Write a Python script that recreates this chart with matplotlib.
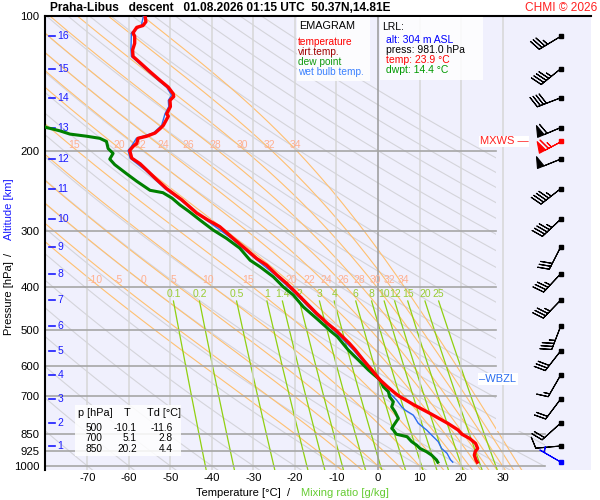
import numpy as np
import matplotlib
matplotlib.use('Agg')
import matplotlib.pyplot as plt
from matplotlib.patches import Polygon, Rectangle

plt.rcParams['font.family'] = ['Liberation Sans', 'DejaVu Sans']

# --- sounding (descent) ---
temp_p = [100, 103, 105, 106, 109, 111, 115, 119, 123, 127, 133, 139, 144, 149, 151,
          154, 159, 165, 167, 175, 178, 182, 185, 187, 192, 195, 199, 207, 213, 220,
          231, 242, 256, 274, 284, 294, 312, 331, 346, 358, 376, 393, 413, 435, 458,
          482, 500, 534, 552, 582, 612, 644, 667, 690, 700, 732, 764, 804, 832, 850,
          868, 891, 914, 930, 946, 970, 981]
temp_t = [-56.1, -55.9, -56.6, -58.1, -59.0, -58.6, -58.6, -59.1, -59.0, -57.3, -54.9, -52.5, -50.5, -49.3, -49.2,
          -50.1, -50.0, -50.9, -50.5, -51.7, -52.5, -53.7, -55.7, -57.8, -58.1, -59.0, -59.8, -59.3, -57.3, -55.7,
          -53.3, -50.9, -47.3, -43.7, -41.0, -38.1, -34.9, -31.6, -29.2, -26.8, -24.4, -22.0, -19.6, -17.2, -14.8,
          -12.2, -10.1, -6.9, -5.5, -3.5, -1.5, 0.5, 2.3, 4.2, 5.1, 8.7, 12.5, 16.8, 19.3, 20.2,
          22.0, 23.5, 24.0, 23.4, 23.2, 23.6, 23.9]

dew_p = [168, 177, 180, 183, 185, 187, 190, 197, 202, 208, 214, 224, 233, 244, 247,
         254, 263, 272, 284, 299, 312, 328, 349, 361, 380, 400, 417, 443, 470, 490,
         500, 516, 552, 612, 644, 667, 684, 702, 720, 739, 758, 784, 804, 825, 832,
         850, 861, 883, 899, 914, 930, 946, 970, 981]
dew_t = [-85.0, -79.8, -76.6, -74.2, -70.2, -67.0, -65.4, -65.0, -63.8, -64.6, -63.4, -60.6, -58.1, -54.9, -51.8,
         -49.6, -47.7, -45.5, -42.9, -39.7, -36.5, -33.3, -30.8, -28.4, -25.2, -22.8, -20.4, -18.0, -14.8, -12.6,
         -11.6, -9.8, -7.2, -2.3, 0.5, 1.3, 2.5, 2.8, 3.7, 3.3, 4.1, 4.9, 4.1, 3.3, 3.7,
         4.4, 7.0, 8.1, 9.3, 10.1, 11.7, 12.9, 14.1, 14.4]

wb_p = [100, 105, 109, 119, 123, 127, 133, 139, 144, 150, 154, 159, 165, 175, 182,
        187, 195, 199, 207, 220, 242, 256, 284, 312, 346, 376, 413, 458, 500, 552,
        612, 644, 672, 690, 714, 739, 751, 771, 804, 832, 861, 883, 914, 937, 970, 981]
wb_t = [-56.5, -57.0, -59.4, -59.5, -59.4, -57.7, -55.3, -52.9, -50.9, -49.7, -50.5, -50.4, -51.3, -52.1, -54.1,
        -58.2, -59.4, -60.2, -59.7, -56.1, -51.3, -47.7, -41.4, -35.3, -29.6, -24.8, -20.0, -15.2, -10.6, -6.0,
        -1.8, 0.5, 1.7, 2.9, 4.5, 5.7, 6.5, 8.5, 9.7, 11.7, 13.3, 14.5, 15.3, 16.6, 17.5, 18.0]

# altitude marks (km) and the wind at each of them
alt_km = [1, 2, 3, 4, 5, 6, 7, 8, 9, 10, 11, 12, 13, 14, 15, 16]
alt_p = [903, 803, 710, 628, 555, 489, 428, 374, 326, 283, 242, 208, 177, 152, 131, 111]
wind_dir = [265, 228, 217, 210, 218, 201, 224, 223, 207, 227, 232, 248, 247, 249, 231, 239]
wind_spd = [10, 20, 20, 15, 30, 35, 35, 35, 30, 45, 45, 50, 60, 40, 45, 35]
mxws_p, mxws_dir, mxws_spd = 190, 242, 65
sfc_p, sfc_dir, sfc_spd = 981, 300, 5
wbzl_p = 641

# background isopleths
theta_dry = np.arange(-70, 201, 10)
theta_w = [-10, -5, 0, 5, 10, 15, 20, 22, 24, 26, 28, 30, 32, 34]
mix_ratio = [0.1, 0.2, 0.5, 1, 1.4, 2, 3, 4, 6, 8, 10, 12, 15, 20, 25]
mix_labels = ['0.1', '0.2', '0.5', '1', '1.4', '2', '3', '4', '6', '8', '10', '12', '15', '20', '25']

std_p = [100, 200, 300, 400, 500, 600, 700, 850, 925, 1000]
t_ticks = [-70, -60, -50, -40, -30, -20, -10, 0, 10, 20, 30]

table_rows = [('500', '-10.1', '-11.6'), ('700', '5.1', '2.8'), ('850', '20.2', '4.4')]


def sat_vp(tc):
    return 6.112 * np.exp(17.67 * tc / (tc + 243.5))


def td_from_e(e):
    a = np.log(e / 6.112)
    return 243.5 * a / (17.67 - a)


def dtdp(p, t):
    rd, cp, lv, eps = 287.04, 1005.7, 2.501e6, 0.622
    es = sat_vp(t - 273.15)
    rs = eps * es / (p - es)
    return (rd * t + lv * rs) / (p * (cp + lv ** 2 * rs * eps / (rd * t ** 2)))


def integrate(pp, t0):
    out = [t0]
    t = t0
    for p0, p1 in zip(pp[:-1], pp[1:]):
        h = p1 - p0
        k1 = dtdp(p0, t)
        k2 = dtdp(p0 + h / 2, t + h / 2 * k1)
        k3 = dtdp(p0 + h / 2, t + h / 2 * k2)
        k4 = dtdp(p1, t + h * k3)
        t = t + h / 6 * (k1 + 2 * k2 + 2 * k3 + k4)
        out.append(t)
    return np.array(out)


def moist_adiabat(tw):
    up = np.arange(1000, 99, -2.5)
    down = np.arange(1000, 1030, 2.5)
    t_up = integrate(up, tw + 273.15)
    t_dn = integrate(down, tw + 273.15)
    p = np.concatenate([down[::-1], up[1:]])
    t = np.concatenate([t_dn[::-1], t_up[1:]]) - 273.15
    return p, t


XMIN, XMAX = -80.2, 51.3
PBOT, PTOP = 1021, 100

fig = plt.figure(figsize=(6, 5), dpi=100)
ax = fig.add_axes([0.075, 0.06, 0.91, 0.908])
ax.set_facecolor('#f0f0fd')
ax.set_yscale('log')
ax.set_xlim(XMIN, XMAX)
ax.set_ylim(PBOT, PTOP)

clip = Polygon([(XMIN, 99), (28.4, 99), (28.4, 835), (40.2, 835), (40.2, 1030), (XMIN, 1030)],
               closed=True, transform=ax.transData, fill=False)

pp = np.geomspace(100, 1030, 200)
for th in theta_dry:
    t = (th + 273.15) * (pp / 1000) ** 0.2857 - 273.15
    ln, = ax.plot(t, pp, color='#d4d4da', lw=0.8, zorder=1)
    ln.set_clip_path(clip)

for tw in theta_w:
    p, t = moist_adiabat(tw)
    ln, = ax.plot(t, p, color='#ffc070', lw=0.8, zorder=1.1)
    ln.set_clip_path(clip)
    for plab in (193.5, 386):
        tl = np.interp(plab, p[::-1], t[::-1])
        if -78 < tl < 28:
            ax.text(tl + 1.0, plab, str(tw), color='#ffb090', fontsize=7.5,
                    ha='center', va='center', zorder=2)

pm = np.geomspace(430, 1030, 60)
for w, lab in zip(mix_ratio, mix_labels):
    t = td_from_e(w * pm / (622 + w))
    ax.plot(t, pm, color='#90d010', lw=0.9, zorder=1.2)
    ax.text(td_from_e(w * 430 / (622 + w)), 415, lab, color='#99cc33', fontsize=7.5,
            ha='center', va='center', zorder=2)

# grid
for t in t_ticks:
    ax.axvline(t, color='#999999' if t == 0 else '#d6d6d6', lw=1.1, zorder=1.5)
for p in std_p[1:]:
    right = 40.2 if p >= 850 else 28.4
    ax.plot([XMIN, right], [p, p], color='#a6a6a6', lw=1.2, zorder=1.6)

# profiles
ax.plot(wb_t, wb_p, color='#2a6cf0', lw=1.0, zorder=4)
ax.plot(dew_t, dew_p, color='#008000', lw=2.2, zorder=5)
ax.plot(temp_t, temp_p, color='#ff0000', lw=2.4, zorder=6)

# altitude marks
for km, p in zip(alt_km, alt_p):
    ax.plot([-79.3, -77.9], [p, p], color='#1a1aff', lw=1.2, zorder=3)
    ax.text(-77.2, p, str(km), color='#1a1aff', fontsize=7.5, ha='left', va='center', zorder=3)

# wind barbs
xb = 44.0
barb_kw = dict(length=6.0, lw=0.8, zorder=7, sizes=dict(height=0.45, spacing=0.13, width=0.28))


def uv(d, s):
    r = np.radians(d)
    return -s * np.sin(r), -s * np.cos(r)


u, v = uv(np.array(wind_dir), np.array(wind_spd))
ax.barbs(np.full(len(alt_p), xb), alt_p, u, v, color='k', **barb_kw)
ax.plot([xb] * len(alt_p), alt_p, 's', ms=2.5, color='k', zorder=7)
u1, v1 = uv(mxws_dir, mxws_spd)
ax.barbs([xb], [mxws_p], [u1], [v1], color='#ff0000', **barb_kw)
ax.plot([xb], [mxws_p], 's', ms=2.5, color='#ff0000', zorder=7)
u2, v2 = uv(sfc_dir, sfc_spd)
ax.barbs([xb], [sfc_p], [u2], [v2], color='#0000ff', **barb_kw)
ax.plot([xb], [sfc_p], 's', ms=2.5, color='#0000ff', zorder=7)

ax.text(36.2, mxws_p, 'MXWS \u2014', color='#ff2020', fontsize=8, ha='right', va='center', zorder=8,
        bbox=dict(fc='white', ec='none', pad=0.5))
ax.text(24.4, wbzl_p, '\u2013WBZL', color='#2a6cf0', fontsize=8, ha='left', va='center', zorder=8,
        bbox=dict(fc='white', ec='none', pad=1.0))

# axes styling
ax.set_yticks(std_p)
ax.set_yticklabels([str(p) for p in std_p])
ax.minorticks_off()
ax.set_xticks(t_ticks)
ax.set_xticklabels([str(t) for t in t_ticks])
ax.tick_params(length=0, labelsize=8.2)
ax.tick_params(axis='y', pad=4)
ax.tick_params(axis='x', pad=2)
for s in ('right', 'bottom'):
    ax.spines[s].set_visible(False)
for s in ('top', 'left'):
    ax.spines[s].set_linewidth(1.5)
    ax.spines[s].set_color('black')


def px(x, y):
    return x / 600, 1 - y / 500


# legend boxes
for (x0, y0, x1, y1) in [(297, 17, 370, 81), (380, 17, 483, 80), (75, 405, 181, 456)]:
    fig.patches.append(Rectangle(px(x0, y1), (x1 - x0) / 600, (y1 - y0) / 500,
                                 transform=fig.transFigure, fc='white', ec='none', alpha=0.85, zorder=3))

fig.text(*px(299, 26), 'EMAGRAM', fontsize=7.8, va='center', zorder=4)
for y, s, c in [(42, 'temperature', '#ff0000'), (52, 'virt.temp.', '#a00000'),
                (62, 'dew point', '#109a10'), (72, 'wet bulb temp.', '#3a80ff')]:
    fig.text(*px(298, y), s, color=c, fontsize=7.3, va='center', zorder=4)

fig.text(*px(382, 27), 'LRL:', fontsize=7.5, va='center', zorder=4)
for y, s, c in [(40, 'alt: 304 m ASL', '#0000ff'), (50, 'press: 981.0 hPa', '#000000'),
                (60, 'temp: 23.9 \u00b0C', '#ff0000'), (70, 'dwpt: 14.4 \u00b0C', '#009900')]:
    fig.text(*px(386, y), s, color=c, fontsize=7.5, va='center', zorder=4)

fig.text(*px(78, 413), 'p [hPa]', fontsize=7.8, va='center', zorder=4)
fig.text(*px(127, 413), 'T', fontsize=7.8, va='center', ha='center', zorder=4)
fig.text(*px(147, 413), 'Td [\u00b0C]', fontsize=7.8, va='center', zorder=4)
for y, (a, b, c) in zip([428, 438, 449], table_rows):
    fig.text(*px(102, y), a, fontsize=7.3, va='center', ha='right', zorder=4)
    fig.text(*px(137, y), b, fontsize=7.3, va='center', ha='right', zorder=4)
    fig.text(*px(173, y), c, fontsize=7.3, va='center', ha='right', zorder=4)

# titles and axis labels
fig.text(*px(50, 8), 'Praha-Libus   descent   01.08.2026 01:15 UTC  50.37N,14.81E',
         fontsize=8.6, fontweight='bold', va='center')
fig.text(*px(597, 8), 'CHMI \u00a9 2026', fontsize=8.6, color='#ff2020', va='center', ha='right')

fig.text(*px(9, 298), 'Pressure [hPa]', fontsize=8, rotation=90, ha='center', va='center')
fig.text(*px(9, 254), '/', fontsize=8, rotation=90, ha='center', va='center')
fig.text(*px(9, 209), 'Altitude [km]', fontsize=8, rotation=90, ha='center', va='center', color='#1a1aff')

fig.text(*px(238, 493), 'Temperature [\u00b0C]', fontsize=8, ha='center', va='center')
fig.text(*px(289, 493), '/', fontsize=8, ha='center', va='center')
fig.text(*px(345, 493), 'Mixing ratio [g/kg]', fontsize=8, ha='center', va='center', color='#66cc33')

fig.savefig('out.png', dpi=100)
